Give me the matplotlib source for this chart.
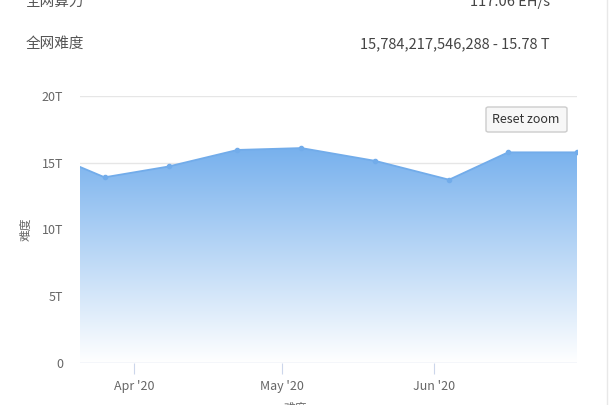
import matplotlib
matplotlib.use("Agg")
import matplotlib.pyplot as plt
import matplotlib.dates as mdates
import numpy as np
import datetime as dt
from matplotlib.patches import FancyBboxPatch
from matplotlib.colors import LinearSegmentedColormap

plt.rcParams['font.family'] = ['Noto Sans CJK SC', 'DejaVu Sans']

# Data (difficulty in T)
dates = ["2020-03-09", "2020-03-26", "2020-04-08", "2020-04-22", "2020-05-05",
         "2020-05-20", "2020-06-04", "2020-06-16", "2020-06-30"]
difficulty = [16.55, 13.91, 14.72, 15.96, 16.10, 15.14, 13.73, 15.78, 15.78]
x_start = "2020-03-21"
x_end = "2020-06-30"
yticks = [0, 5, 10, 15, 20]
ytick_labels = ["0", "5T", "10T", "15T", "20T"]
xticks = ["2020-04-01", "2020-05-01", "2020-06-01"]
xtick_labels = ["Apr '20", "May '20", "Jun '20"]

hashrate_label = "全网算力"
hashrate_value = "117.06 EH/s"
difficulty_label = "全网难度"
difficulty_value = "15,784,217,546,288 - 15.78 T"

W, H = 613, 405
fig = plt.figure(figsize=(W / 100, H / 100), dpi=100)
fig.patch.set_facecolor("white")

left, right, bottom, top = 80, 577, 363, 96
ax = fig.add_axes([left / W, 1 - bottom / H, (right - left) / W, (bottom - top) / H])

xd = mdates.date2num([dt.datetime.fromisoformat(d) for d in dates])
yd = np.array(difficulty)
x0 = mdates.date2num(dt.datetime.fromisoformat(x_start))
x1 = mdates.date2num(dt.datetime.fromisoformat(x_end))

ax.set_xlim(x0, x1)
ax.set_ylim(0, 20)

# gradient fill
ymax_vis = 16.2
cmap = LinearSegmentedColormap.from_list("g", [(0, (1, 1, 1)), (1, (118/255, 176/255, 237/255))])
grad = np.linspace(0, 1, 256).reshape(-1, 1)
poly = ax.fill_between(xd, yd, 0, color="none", linewidth=0)
im = ax.imshow(grad, cmap=cmap, aspect="auto", origin="lower",
               extent=[x0, x1, 0, ymax_vis], zorder=1, interpolation="bicubic")
path = poly.get_paths()[0]
im.set_clip_path(path, transform=ax.transData)

ax.plot(xd, yd, color="#72acea", lw=1.3, zorder=3, clip_on=True)
ax.plot(xd, yd, "o", color="#72acea", ms=3, zorder=4, clip_on=True)

for v in yticks[1:]:
    ax.axhline(v, color="#e6e6e6", lw=1, zorder=0.5)
ax.axhline(0, color="#ccd6eb", lw=1, zorder=2)

for s in ax.spines.values():
    s.set_visible(False)

ax.set_yticks(yticks)
ax.set_yticklabels(ytick_labels, color="#666666", fontsize=9)
ax.tick_params(axis="y", length=0, pad=12)

xt = mdates.date2num([dt.datetime.fromisoformat(d) for d in xticks])
ax.set_xticks(xt)
ax.set_xticklabels(xtick_labels, color="#666666", fontsize=9)
ax.tick_params(axis="x", length=8, color="#ccd6eb", pad=4)

ax.set_ylabel("难度", color="#666666", fontsize=8.5)
ax.yaxis.set_label_coords((33 - left) / (right - left), 0.5)
fig.text(295 / W, 1 - 408 / H, "难度", color="#666666", fontsize=8.5, ha="center", va="center")

# header
fig.text(26 / W, 1 - 2 / H, hashrate_label, color="#555555", fontsize=10.5, ha="left", va="center")
fig.text(550 / W, 1 - 2 / H, hashrate_value, color="#444444", fontsize=10.5, ha="right", va="center")
fig.text(26 / W, 1 - 44 / H, difficulty_label, color="#555555", fontsize=10.5, ha="left", va="center")
fig.text(550 / W, 1 - 44 / H, difficulty_value, color="#444444", fontsize=10.5, ha="right", va="center")

# reset zoom button
btn = FancyBboxPatch((486 / W, 1 - 132 / H), 81 / W, 25 / H,
                     boxstyle="round,pad=0,rounding_size=0.004",
                     transform=fig.transFigure, facecolor="#f7f7f7", edgecolor="#cccccc", lw=1, zorder=10)
fig.patches.append(btn)
fig.text(526 / W, 1 - 119.5 / H, "Reset zoom", color="#333333", fontsize=9, ha="center", va="center", zorder=11)

# right border line
fig.add_artist(plt.Line2D([607 / W, 607 / W], [0, 1], transform=fig.transFigure, color="#e8e8e8", lw=1))

fig.savefig("out.png", dpi=100)
